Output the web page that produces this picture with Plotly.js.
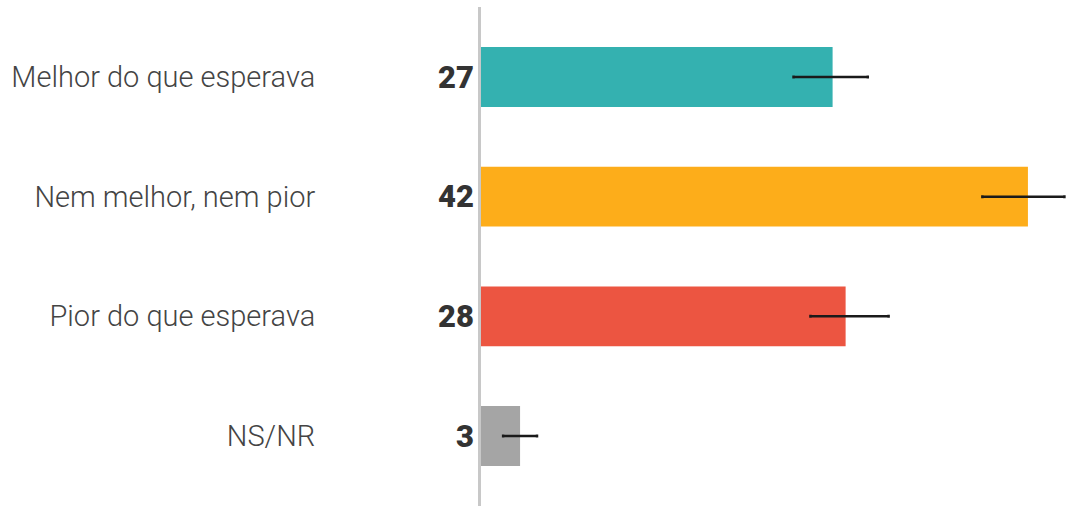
<!DOCTYPE html>
<html><head><meta charset="utf-8">
<script src="https://cdn.plot.ly/plotly-3.0.1.min.js"></script>
<style>html,body{margin:0;padding:0;background:#fff}#c{width:1067px;height:506px}</style>
</head><body><div id="c"></div>
<script>
const categories = ["Melhor do que esperava", "Nem melhor, nem pior", "Pior do que esperava", "NS/NR"];
const values = [27, 42, 28, 3];
const errPlus = [2.7, 2.8, 3.3, 1.3];
const errMinus = [3.0, 3.5, 2.7, 1.3];
const colors = ["#34b1b0", "#fdad1a", "#ec5541", "#a5a5a5"];

const trace = {
  type: "bar", orientation: "h",
  x: values, y: categories,
  width: 0.5,
  marker: {color: colors},
  error_x: {type: "data", symmetric: false, array: errPlus, arrayminus: errMinus,
            color: "#1a1a1a", thickness: 2.5, width: 1.5},
  hoverinfo: "none"
};
const annotations = values.map((v, i) => ({
  x: 0, y: categories[i], xref: "x", yref: "y",
  text: v + "", showarrow: false, xanchor: "right", xshift: -5,
  font: {family: "Roboto", size: 31, color: "#333", weight: 900}
}));
Plotly.newPlot("c", [trace], {
  width: 1067, height: 506,
  margin: {l: 481, r: 0, t: 7, b: 0},
  paper_bgcolor: "#fff", plot_bgcolor: "#fff",
  showlegend: false,
  xaxis: {range: [0, 45], showgrid: false, zeroline: false, showticklabels: false,
          showline: false, fixedrange: true},
  yaxis: {autorange: false, range: [3.585, -0.585], type: "category", showgrid: false,
          zeroline: false, showline: true, linecolor: "#c8c8c8", linewidth: 3,
          ticks: "", ticklabelstandoff: 157,
          tickfont: {family: "Roboto", size: 29, color: "#444", weight: 300}},
  annotations: annotations
}, {staticPlot: true});
</script></body></html>
